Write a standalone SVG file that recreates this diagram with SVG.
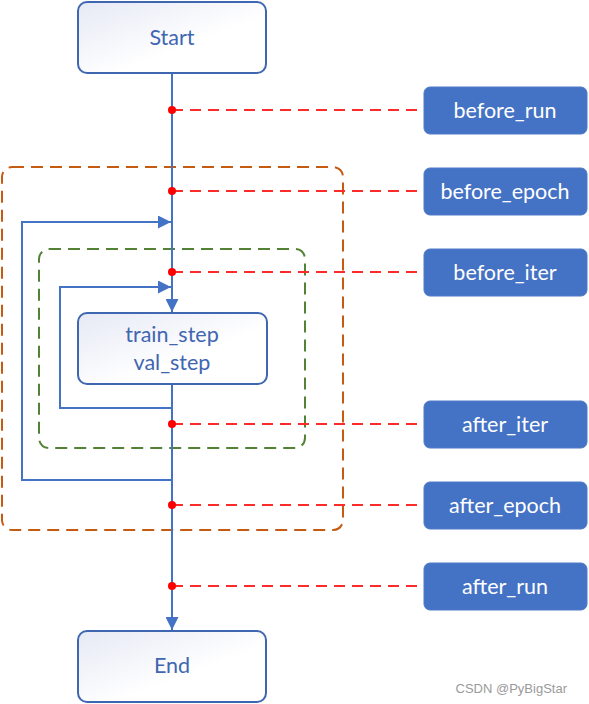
<svg xmlns="http://www.w3.org/2000/svg" width="589" height="704" viewBox="0 0 589 704">
<style>
.proc{stroke:#3F66B0;stroke-width:2;fill:url(#g)}
.ptxt{font-family:Lato,"Liberation Sans",sans-serif;font-size:21.5px;fill:#3F66B0;text-anchor:middle}
.lbl{fill:#4472C4;stroke:#4F7BC8;stroke-width:1}
.ltxt{font-family:Lato,"Liberation Sans",sans-serif;font-size:21.5px;fill:#FFFFFF;text-anchor:middle}
.flow{stroke:#4472C4;stroke-width:2;fill:none}
.hook{stroke:#FF2A2A;stroke-width:2;stroke-dasharray:11 7;fill:none}
.dot{fill:#FF0000}
</style>
<defs>
<linearGradient id="g" x1="0" y1="0" x2="1" y2="1">
<stop offset="0" stop-color="#E6E9F5"/>
<stop offset="0.6" stop-color="#FFFFFF"/>
<stop offset="1" stop-color="#FFFFFF"/>
</linearGradient>
<marker id="ah" viewBox="0 0 10 10" refX="10" refY="5" markerWidth="6.5" markerHeight="6.5" orient="auto" markerUnits="strokeWidth">
<path d="M0,0 L10,5 L0,10 z" fill="#4472C4"/>
</marker>
</defs>
<g id="regions">
<rect id="epoch-region" x="2" y="167" width="341" height="363" rx="10" fill="none" stroke="#C55A11" stroke-width="2" stroke-dasharray="12 7"/>
<rect id="iter-region" x="39" y="249" width="266" height="199" rx="10" fill="none" stroke="#538135" stroke-width="2" stroke-dasharray="12 7"/>
</g>
<g id="connectors">
<line class="flow" x1="172" y1="73" x2="172" y2="312" marker-end="url(#ah)"/>
<line class="flow" x1="172" y1="384" x2="172" y2="630" marker-end="url(#ah)"/>
<polyline class="flow" points="172,408 60,408 60,287 171,287" marker-end="url(#ah)"/>
<polyline class="flow" points="172,480 22,480 22,222 171,222" marker-end="url(#ah)"/>
<line class="hook" x1="172" y1="110" x2="424" y2="110"/>
<line class="hook" x1="172" y1="191" x2="424" y2="191"/>
<line class="hook" x1="172" y1="272" x2="424" y2="272"/>
<line class="hook" x1="172" y1="424" x2="424" y2="424"/>
<line class="hook" x1="172" y1="505" x2="424" y2="505"/>
<line class="hook" x1="172" y1="586" x2="424" y2="586"/>
<circle class="dot" cx="172" cy="110" r="4"/>
<circle class="dot" cx="172" cy="191" r="4"/>
<circle class="dot" cx="172" cy="272" r="4"/>
<circle class="dot" cx="172" cy="424" r="4"/>
<circle class="dot" cx="172" cy="505" r="4"/>
<circle class="dot" cx="172" cy="586" r="4"/>
</g>
<g id="start">
<rect class="proc" x="78" y="2" width="188" height="71" rx="9"/>
<text class="ptxt" x="172" y="45">Start</text>
</g>
<g id="step">
<rect class="proc" x="78" y="313" width="189" height="71" rx="9"/>
<text class="ptxt" x="172" y="342">train_step</text>
<text class="ptxt" x="172" y="370">val_step</text>
</g>
<g id="end">
<rect class="proc" x="78" y="631" width="188" height="71" rx="9"/>
<text class="ptxt" x="172" y="673">End</text>
</g>
<g id="before_run">
<rect class="lbl" x="424" y="87" width="163" height="47" rx="6"/>
<text class="ltxt" x="505" y="118">before_run</text>
</g>
<g id="before_epoch">
<rect class="lbl" x="424" y="168" width="163" height="47" rx="6"/>
<text class="ltxt" x="505" y="199">before_epoch</text>
</g>
<g id="before_iter">
<rect class="lbl" x="424" y="249" width="163" height="47" rx="6"/>
<text class="ltxt" x="505" y="280">before_iter</text>
</g>
<g id="after_iter">
<rect class="lbl" x="424" y="401" width="163" height="47" rx="6"/>
<text class="ltxt" x="505" y="432">after_iter</text>
</g>
<g id="after_epoch">
<rect class="lbl" x="424" y="482" width="163" height="47" rx="6"/>
<text class="ltxt" x="505" y="513">after_epoch</text>
</g>
<g id="after_run">
<rect class="lbl" x="424" y="563" width="163" height="47" rx="6"/>
<text class="ltxt" x="505" y="594">after_run</text>
</g>
<text x="567" y="693" font-family="'Liberation Sans',Arial,sans-serif" font-size="13" fill="#9A9A9A" text-anchor="end">CSDN @PyBigStar</text>
</svg>
